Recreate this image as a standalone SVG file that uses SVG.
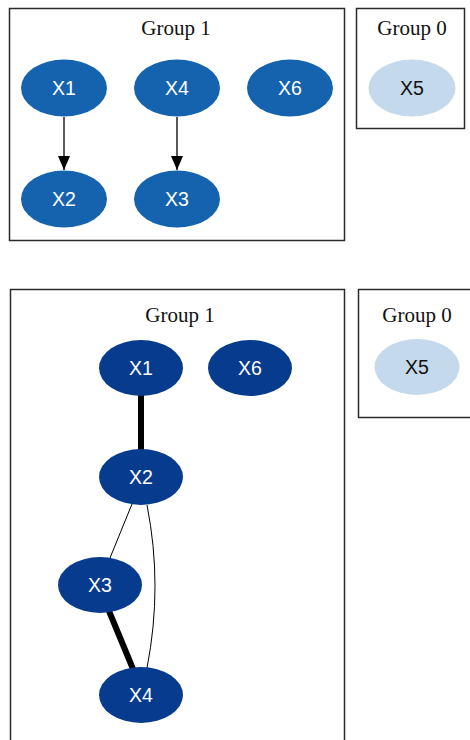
<svg xmlns="http://www.w3.org/2000/svg" width="470" height="740" viewBox="0 0 470 740">
<style>
.box{fill:#fff;stroke:#2a2a2a;stroke-width:1.5}
.glabel{font-family:"Liberation Serif",serif;font-size:21px;fill:#111;text-anchor:middle}
.n1{fill:#1563ae}
.n2{fill:#073b8e}
.n5{fill:#c4d9ec}
.t{font-family:"Liberation Sans",Arial,sans-serif;font-size:19.5px;fill:#fff;text-anchor:middle}
.t5{font-family:"Liberation Sans",Arial,sans-serif;font-size:19.5px;fill:#111;text-anchor:middle}
.e{stroke:#000;fill:none}
</style>
<defs>
<marker id="ah" markerWidth="14" markerHeight="12" refX="14" refY="6" orient="auto" markerUnits="userSpaceOnUse" viewBox="0 0 14 12">
<path d="M0,0 L14,6 L0,12 Z" fill="#000"/>
</marker>
</defs>
<rect width="470" height="740" fill="#fff"/>

<g id="top-group1">
<rect class="box" x="9.5" y="8.5" width="335" height="232"/>
<text class="glabel" x="176" y="35">Group 1</text>
</g>
<g id="top-group0">
<rect class="box" x="356.5" y="8.5" width="108" height="120"/>
<text class="glabel" x="412" y="35">Group 0</text>
</g>

<g id="top-edges">
<line class="e" x1="64" y1="117" x2="64" y2="170" stroke-width="1.3" marker-end="url(#ah)"/>
<line class="e" x1="177" y1="117" x2="177" y2="170" stroke-width="1.3" marker-end="url(#ah)"/>
</g>

<g id="top-X1"><ellipse class="n1" cx="64" cy="88" rx="43" ry="28.5"/><text class="t" x="64" y="95">X1</text></g>
<g id="top-X4"><ellipse class="n1" cx="177" cy="88" rx="43" ry="28.5"/><text class="t" x="177" y="95">X4</text></g>
<g id="top-X6"><ellipse class="n1" cx="290" cy="88" rx="43" ry="28.5"/><text class="t" x="290" y="95">X6</text></g>
<g id="top-X2"><ellipse class="n1" cx="64" cy="199" rx="43" ry="28.5"/><text class="t" x="64" y="206">X2</text></g>
<g id="top-X3"><ellipse class="n1" cx="177" cy="199" rx="43" ry="28.5"/><text class="t" x="177" y="206">X3</text></g>
<g id="top-X5"><ellipse class="n5" cx="412" cy="88" rx="43.5" ry="28.5"/><text class="t5" x="412" y="95">X5</text></g>

<g id="bottom-group1">
<rect class="box" x="10.5" y="289.5" width="334" height="460"/>
<text class="glabel" x="180" y="322">Group 1</text>
</g>
<g id="bottom-group0">
<rect class="box" x="358.5" y="289.5" width="120" height="128"/>
<text class="glabel" x="417" y="322">Group 0</text>
</g>

<g id="bottom-edges">
<line class="e" x1="141" y1="395" x2="141" y2="450" stroke-width="6"/>
<line class="e" x1="132" y1="504" x2="110" y2="558" stroke-width="1"/>
<path class="e" d="M147,505 Q163,586 147,668" stroke-width="1"/>
<line class="e" x1="109" y1="611" x2="133" y2="669" stroke-width="6"/>
</g>

<g id="bottom-X1"><ellipse class="n2" cx="141" cy="368" rx="42" ry="28"/><text class="t" x="141" y="375">X1</text></g>
<g id="bottom-X6"><ellipse class="n2" cx="250" cy="368" rx="42" ry="28"/><text class="t" x="250" y="375">X6</text></g>
<g id="bottom-X2"><ellipse class="n2" cx="141" cy="477" rx="42" ry="28"/><text class="t" x="141" y="484">X2</text></g>
<g id="bottom-X3"><ellipse class="n2" cx="100" cy="585" rx="42" ry="28"/><text class="t" x="100" y="592">X3</text></g>
<g id="bottom-X4"><ellipse class="n2" cx="141" cy="695" rx="42" ry="28"/><text class="t" x="141" y="702">X4</text></g>
<g id="bottom-X5"><ellipse class="n5" cx="417" cy="367" rx="42.5" ry="28"/><text class="t5" x="417" y="374">X5</text></g>
</svg>
